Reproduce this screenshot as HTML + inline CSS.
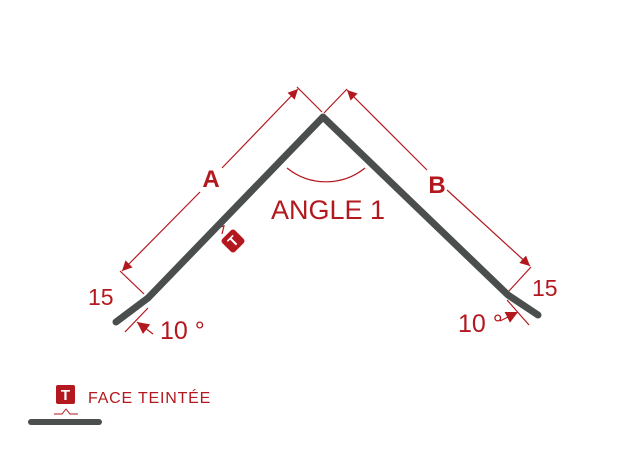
<!DOCTYPE html>
<html><head><meta charset="utf-8"><style>
html,body{margin:0;padding:0;background:#fff}
svg{display:block}
text{font-family:"Liberation Sans",sans-serif;fill:#b3181e}
</style></head><body>
<svg width="641" height="451" viewBox="0 0 641 451">
<defs><marker id="ar" viewBox="0 0 10 10" refX="10" refY="5" markerWidth="10" markerHeight="10" markerUnits="userSpaceOnUse" orient="auto-start-reverse"><path d="M0,0 L10,5 L0,10 z" fill="#b3181e"/></marker>
<marker id="ar2" viewBox="0 0 10 10" refX="10" refY="5" markerWidth="12" markerHeight="12" markerUnits="userSpaceOnUse" orient="auto"><path d="M0,0 L10,5 L0,10 z" fill="#b3181e"/></marker></defs>
<g stroke="#b3181e" stroke-width="1.2" fill="none">
<line x1="122" y1="271" x2="200" y2="192" marker-start="url(#ar)"/>
<line x1="222" y1="168" x2="298" y2="89" marker-end="url(#ar)"/>
<line x1="120" y1="271" x2="144" y2="294"/>
<line x1="297" y1="87" x2="322" y2="112"/>
<line x1="347" y1="90" x2="427" y2="170" marker-start="url(#ar)"/>
<line x1="447" y1="190" x2="530" y2="266" marker-end="url(#ar)"/>
<line x1="347" y1="89" x2="324" y2="113"/>
<line x1="531" y1="267" x2="509" y2="291"/>
<path d="M287,168 A62,62 0 0 0 365,168"/>
<line x1="125" y1="332" x2="148" y2="308"/>
<line x1="153" y1="334" x2="137" y2="322" marker-end="url(#ar2)"/>
<line x1="507" y1="300" x2="529" y2="325"/>
<line x1="500" y1="321" x2="518" y2="312" marker-end="url(#ar2)"/>
<path d="M216,228 l8,-2 l-2,8" />
</g>
<polyline points="116,322 148,298 323,117 508,295 538,315" fill="none" stroke="#4a4f4e" stroke-width="7" stroke-linecap="round" stroke-linejoin="round"/>
<g transform="translate(233,241) rotate(45)">
<rect x="-9" y="-9" width="18" height="18" rx="3" fill="#b3181e"/>
<text x="0" y="5" font-size="14" font-weight="bold" text-anchor="middle" style="fill:#fff" transform="rotate(-90)">T</text>
</g>
<text x="211" y="187" font-size="24" font-weight="bold" text-anchor="middle">A</text>
<text x="437" y="193" font-size="24" font-weight="bold" text-anchor="middle">B</text>
<text x="328" y="219" font-size="27" text-anchor="middle">ANGLE 1</text>
<text x="88" y="305" font-size="23">15</text>
<text x="532" y="296" font-size="23">15</text>
<text x="160" y="339" font-size="25">10 °</text>
<text x="458" y="332" font-size="25">10 °</text>
<g>
<rect x="56" y="385" width="19" height="19" rx="2" fill="#b3181e"/>
<text x="65.5" y="400" font-size="15" font-weight="bold" text-anchor="middle" style="fill:#fff">T</text>
<path d="M54,414 h8 l4,-5 l4,5 h8" stroke="#b3181e" stroke-width="1" fill="none"/>
<line x1="31" y1="422" x2="99" y2="422" stroke="#4a4f4e" stroke-width="6" stroke-linecap="round"/>
<text x="88" y="403" font-size="16" letter-spacing="0.8">FACE TEINTÉE</text>
</g>
</svg>
</body></html>
